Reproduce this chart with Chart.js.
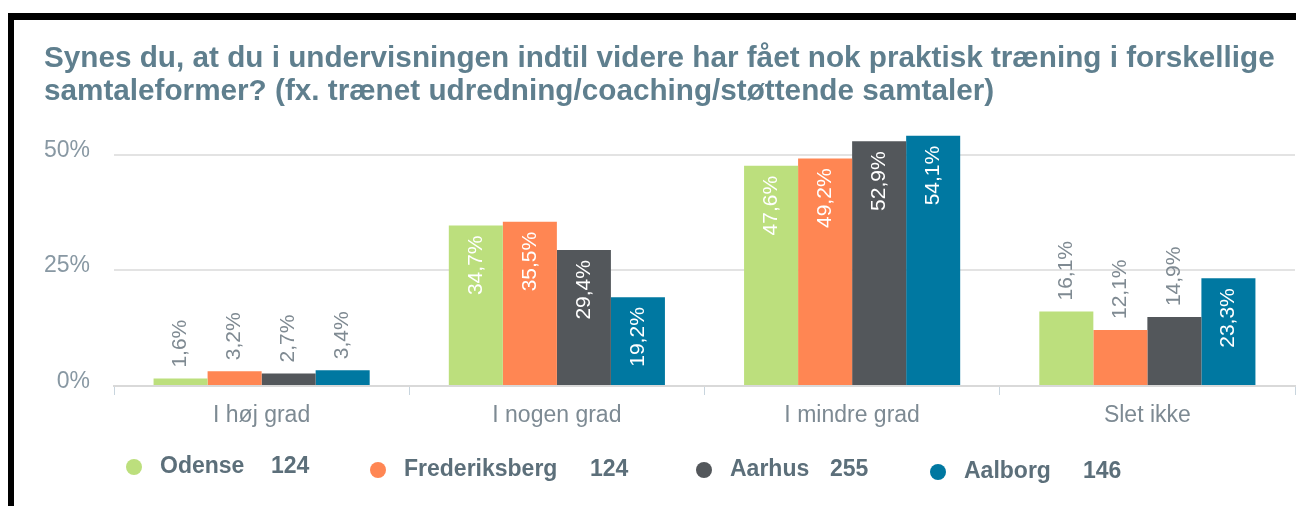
<!DOCTYPE html>
<html>
<head>
<meta charset="utf-8">
<script src="https://cdn.jsdelivr.net/npm/chart.js@4/dist/chart.umd.min.js"></script>
<style>
    html, body { margin: 0; padding: 0; background: #fff; }
    #wrap { position: relative; width: 1296px; height: 506px; }
    #frame {
        position: absolute; left: 8px; top: 13px; width: 1288px; height: 493px;
        box-sizing: border-box; border-top: 7px solid #000; border-left: 6px solid #000;
        pointer-events: none;
    }
</style>
</head>
<body>
<div id="wrap">
    <canvas id="chart" width="1296" height="506"></canvas>
    <div id="frame"></div>
</div>
<script>
const titleLines = [
    'Synes du, at du i undervisningen indtil videre har fået nok praktisk træning i forskellige',
    'samtaleformer? (fx. trænet udredning/coaching/støttende samtaler)',
];
const categories = ['I høj grad', 'I nogen grad', 'I mindre grad', 'Slet ikke'];
const seriesNames = ['Odense', 'Frederiksberg', 'Aarhus', 'Aalborg'];
const seriesCounts = [124, 124, 255, 146];
const odense = [1.6, 34.7, 47.6, 16.1];
const frederiksberg = [3.2, 35.5, 49.2, 12.1];
const aarhus = [2.7, 29.4, 52.9, 14.9];
const aalborg = [3.4, 19.2, 54.1, 23.3];
const yTicks = [0, 25, 50];

const colors = ['#bcdf7d', '#ff8653', '#53575b', '#0078a1'];
const seriesValues = [odense, frederiksberg, aarhus, aalborg];

const fmt = (v) => v.toFixed(1).replace('.', ',') + '%';

// rotated value labels: inside the bar when tall enough, above it otherwise
const barLabels = {
    id: 'barLabels',
    afterDatasetsDraw(chart) {
        const ctx = chart.ctx;
        ctx.save();
        ctx.font = '21px "Liberation Sans", Arial, sans-serif';
        ctx.textBaseline = 'middle';
        chart.data.datasets.forEach((ds, i) => {
            chart.getDatasetMeta(i).data.forEach((bar, j) => {
                const v = ds.data[j];
                const inside = v >= 18;
                ctx.save();
                if (inside) {
                    ctx.translate(bar.x, bar.y + 10);
                    ctx.rotate(-Math.PI / 2);
                    ctx.textAlign = 'right';
                    ctx.fillStyle = '#ffffff';
                } else {
                    ctx.translate(bar.x, bar.y - 11);
                    ctx.rotate(-Math.PI / 2);
                    ctx.textAlign = 'left';
                    ctx.fillStyle = '#7f8a92';
                }
                ctx.fillText(fmt(v), 0, 0);
                ctx.restore();
            });
        });
        ctx.restore();
    },
};

// legend row under the axis: dot, bold name, bold count
const legendX = [134, 378, 704, 938];
const legendCountX = [271, 590, 830, 1083];
const legendY = [467, 470, 470, 472];
const bottomLegend = {
    id: 'bottomLegend',
    afterDraw(chart) {
        const ctx = chart.ctx;
        ctx.save();
        ctx.font = 'bold 23px "Liberation Sans", Arial, sans-serif';
        ctx.textBaseline = 'middle';
        ctx.textAlign = 'left';
        seriesNames.forEach((name, i) => {
            ctx.fillStyle = colors[i];
            ctx.beginPath();
            ctx.arc(legendX[i], legendY[i], 8, 0, Math.PI * 2);
            ctx.fill();
            ctx.fillStyle = '#5c6f7a';
            ctx.fillText(name, legendX[i] + 26, legendY[i]);
            ctx.fillText(String(seriesCounts[i]), legendCountX[i], legendY[i]);
        });
        ctx.restore();
    },
};

new Chart(document.getElementById('chart'), {
    type: 'bar',
    data: {
        labels: categories,
        datasets: seriesNames.map((name, i) => ({
            label: name,
            data: seriesValues[i],
            backgroundColor: colors[i],
            borderWidth: 0,
            categoryPercentage: 0.732,
            barPercentage: 1.0,
        })),
    },
    options: {
        responsive: false,
        animation: false,
        devicePixelRatio: 1,
        layout: {
            padding: { top: 30, left: 44, right: 1, bottom: 0 },
        },
        plugins: {
            legend: { display: false },
            tooltip: { enabled: false },
            title: {
                display: true,
                text: titleLines,
                align: 'start',
                color: '#5f7f8e',
                font: { family: '"Liberation Sans", Arial, sans-serif', size: 29.7, weight: 'bold', lineHeight: '33px' },
                padding: { top: 12, bottom: 19 },
            },
        },
        scales: {
            x: {
                grid: {
                    drawOnChartArea: false,
                    drawTicks: true,
                    tickLength: 9,
                    tickColor: '#c8d5de',
                },
                border: { color: '#d9d9d9', width: 2 },
                ticks: {
                    color: '#7d8a93',
                    padding: 7,
                    font: { family: '"Liberation Sans", Arial, sans-serif', size: 23 },
                },
                afterFit(scale) {
                    scale.height = 120;
                },
            },
            y: {
                min: 0,
                max: 56,
                afterBuildTicks(scale) {
                    scale.ticks = yTicks.map((v) => ({ value: v }));
                },
                grid: { color: '#e3e3e3', lineWidth: 2, drawTicks: false },
                border: { display: false },
                ticks: {
                    color: '#8898a3',
                    padding: 24,
                    labelOffset: -4.5,
                    font: { family: '"Liberation Sans", Arial, sans-serif', size: 23 },
                    callback: (v) => v + '%',
                },
                afterFit(scale) {
                    scale.width = 70;
                },
            },
        },
    },
    plugins: [barLabels, bottomLegend],
});
</script>
</body>
</html>
